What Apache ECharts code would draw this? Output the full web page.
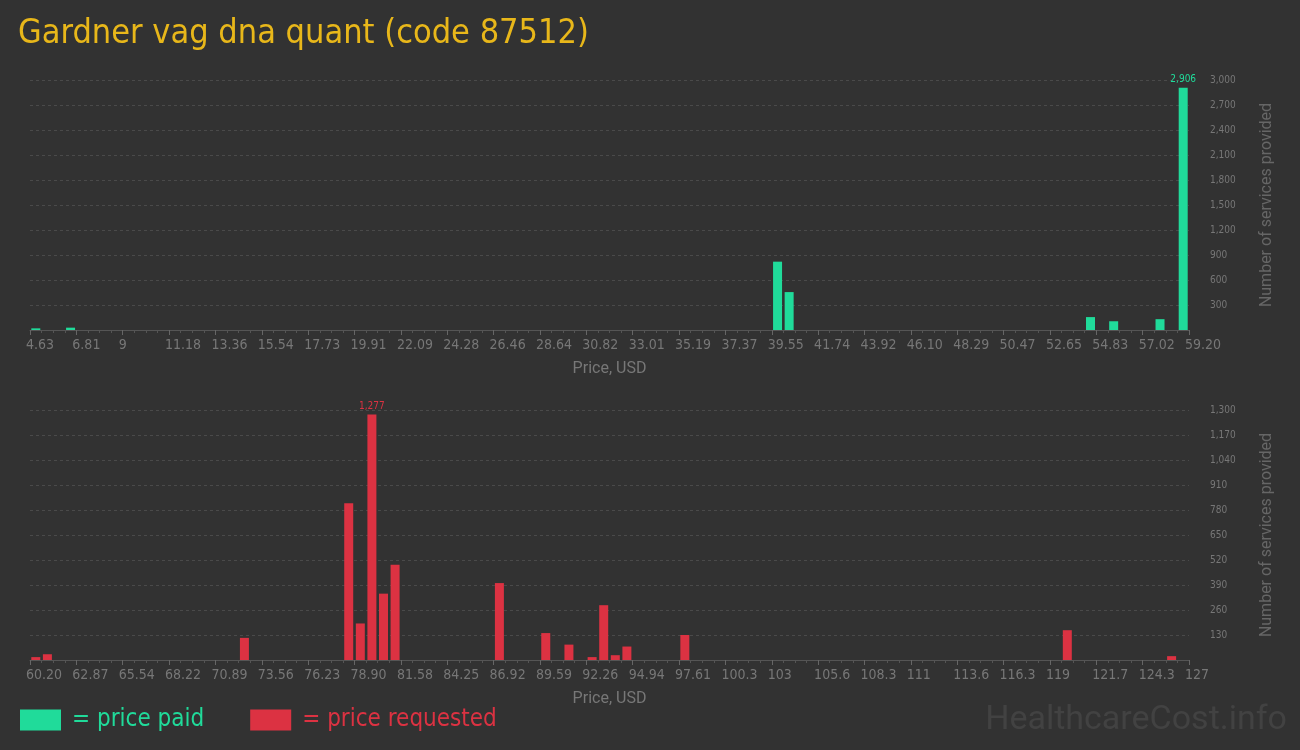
<!DOCTYPE html>
<html>
<head>
<meta charset="utf-8">
<script src="https://cdn.jsdelivr.net/npm/echarts@6/dist/echarts.min.js"></script>
<style>
html,body{margin:0;padding:0;background:#323232;}
#c{width:1300px;height:750px;}
</style>
</head>
<body>
<div id="c"></div>
<script>
// ---- data ----
const paidTickLabels = ["4.63","6.81","9","11.18","13.36","15.54","17.73","19.91","22.09","24.28","26.46","28.64","30.82","33.01","35.19","37.37","39.55","41.74","43.92","46.10","48.29","50.47","52.65","54.83","57.02","59.20"];
const requestedTickLabels = ["60.20","62.87","65.54","68.22","70.89","73.56","76.23","78.90","81.58","84.25","86.92","89.59","92.26","94.94","97.61","100.3","103","105.6","108.3","111","113.6","116.3","119","121.7","124.3","127"];
// bin index (0..99) and number of services in that bin
const paidBins   = [0, 3, 64, 65, 91, 93, 97, 99];
const paidCounts = [20, 28, 820, 455, 155, 105, 130, 2906];
const requestedBins   = [0, 1, 18, 27, 28, 29, 30, 31, 40, 44, 46, 48, 49, 50, 51, 56, 89, 98];
const requestedCounts = [15, 30, 115, 815, 190, 1277, 345, 495, 400, 140, 80, 15, 285, 25, 70, 130, 155, 20];

const GREEN = '#20db9a';
const RED = '#dc3242';
const AXIS_GRAY = '#777';
const NARROW = '"DejaVu Sans Condensed",sans-serif';

function toData(bins, counts) {
  const maxV = Math.max.apply(null, counts);
  return bins.map((b, i) => ({
    value: [b + 0.5, counts[i]],
    label: { show: counts[i] === maxV }
  }));
}
function fmtNum(v) { return v === 0 ? '' : v.toLocaleString('en-US'); }

function xAxisCfg(gridIndex, labels) {
  return {
    type: 'value', gridIndex: gridIndex, min: 0, max: 100, interval: 4,
    name: 'Price, USD', nameLocation: 'middle', nameGap: 31,
    nameTextStyle: { color: AXIS_GRAY, fontSize: 16, fontFamily: 'Roboto' },
    axisLine: { show: true, lineStyle: { color: '#555', width: 1 } },
    axisTick: { show: true, length: 5, lineStyle: { color: '#666' } },
    minorTick: { show: true, splitNumber: 4, length: 3, lineStyle: { color: '#555' } },
    splitLine: { show: false },
    axisLabel: {
      color: AXIS_GRAY, fontSize: 14, fontFamily: NARROW, margin: 8, align: 'left',
      padding: [0, 0, 0, -4],
      formatter: v => labels[Math.round(v / 4)] || ''
    }
  };
}
function yAxisCfg(gridIndex, max, interval) {
  return {
    type: 'value', gridIndex: gridIndex, position: 'right', min: 0, max: max, interval: interval,
    name: 'Number of services provided', nameLocation: 'middle', nameRotate: 90, nameGap: 70,
    nameTextStyle: { color: '#666', fontSize: 16, fontFamily: 'Roboto' },
    axisLine: { show: false }, axisTick: { show: false },
    splitLine: { show: true, lineStyle: { color: '#4a4a4a', type: [3, 3], width: 1 } },
    axisLabel: { color: AXIS_GRAY, fontSize: 10, fontFamily: NARROW, margin: 21, align: 'left', formatter: fmtNum }
  };
}

const chart = echarts.init(document.getElementById('c'), null, { renderer: 'canvas' });
chart.setOption({
  backgroundColor: '#323232',
  animation: false,
  title: {
    text: 'Gardner vag dna quant (code 87512)', left: 13, top: 12,
    textStyle: { color: '#e8b71a', fontSize: 34, fontWeight: 'normal', fontFamily: NARROW }
  },
  legend: {
    left: 15, bottom: 13, itemWidth: 41, itemHeight: 21, itemGap: 46,
    icon: 'rect', selectedMode: false,
    formatter: n => '= ' + n,
    data: [
      { name: 'price paid', textStyle: { color: GREEN } },
      { name: 'price requested', textStyle: { color: RED } }
    ],
    textStyle: { fontSize: 24, fontFamily: NARROW, padding: [0, 0, 0, 6] }
  },
  graphic: [{
    type: 'text', right: 13, bottom: 13,
    style: { text: 'HealthcareCost.info', fill: '#424242', font: '34px Roboto' }
  }],
  grid: [
    { left: 30, right: 111, top: 80, height: 250 },
    { left: 30, right: 111, top: 410, height: 250 }
  ],
  xAxis: [xAxisCfg(0, paidTickLabels), xAxisCfg(1, requestedTickLabels)],
  yAxis: [yAxisCfg(0, 3000, 300), yAxisCfg(1, 1300, 130)],
  series: [
    {
      name: 'price paid', type: 'bar', xAxisIndex: 0, yAxisIndex: 0,
      barWidth: 9, itemStyle: { color: GREEN },
      label: { show: false, position: 'top', color: GREEN, fontSize: 10, fontFamily: NARROW, distance: 3,
               formatter: p => p.value[1].toLocaleString('en-US') },
      data: toData(paidBins, paidCounts)
    },
    {
      name: 'price requested', type: 'bar', xAxisIndex: 1, yAxisIndex: 1,
      barWidth: 9, itemStyle: { color: RED },
      label: { show: false, position: 'top', color: RED, fontSize: 10, fontFamily: NARROW, distance: 3,
               formatter: p => p.value[1].toLocaleString('en-US') },
      data: toData(requestedBins, requestedCounts)
    }
  ]
});
</script>
</body>
</html>
